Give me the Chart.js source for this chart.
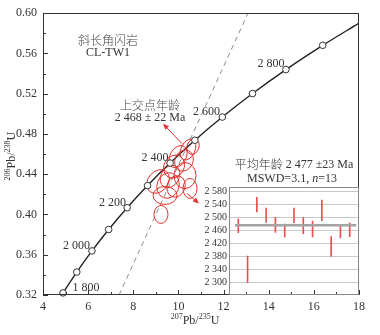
<!DOCTYPE html>
<html><head><meta charset="utf-8">
<script src="https://cdn.jsdelivr.net/npm/chart.js@4.4.1/dist/chart.umd.min.js"></script>
<style>
html,body{margin:0;padding:0;background:#fff;}
#wrap{position:relative;width:380px;height:335px;overflow:hidden;}
#main{position:absolute;left:0;top:0;}
#inset{position:absolute;left:190px;top:175px;}
</style></head><body>
<div id="wrap"><canvas id="main" width="380" height="335"></canvas><canvas id="inset" width="175" height="130"></canvas></div>
<script>
// ---- data ----
const concordiaAges = [1800,1900,2000,2100,2200,2300,2400,2500,2600,2700,2800,2900];
const concordiaX = [4.887,5.496,6.169,6.910,7.729,8.633,9.630,10.730,11.944,13.283,14.762,16.393];
const concordiaY = [0.3221,0.3428,0.3638,0.3851,0.4067,0.4287,0.4511,0.4738,0.4968,0.5202,0.5440,0.5681];
const curveEndX = 18.0, curveEndY = 0.5901;
const labeledAges = ['1 800','2 000','2 200','2 400','2 600','2 800'];
const discX = [7.37, 13.08];
const discY = [0.32, 0.60];
// error ellipses: centre, half-widths, tilt
const ellX  = [10.424,10.646,9.981,10.291,9.095,9.538,9.405,9.228,9.804,9.893,10.247,9.627,10.513];
const ellY  = [0.4645,0.4674,0.4575,0.4387,0.4328,0.4288,0.4189,0.4001,0.4476,0.4279,0.4536,0.4377,0.4259];
const ellDX = [0.310,0.266,0.354,0.487,0.443,0.487,0.532,0.310,0.443,0.399,0.399,0.399,0.310];
const ellDY = [0.0109,0.0079,0.0119,0.0129,0.0129,0.0129,0.0089,0.0089,0.0119,0.0109,0.0109,0.0119,0.0099];
const ellTilt = [25,20,30,0,40,20,0,0,30,20,25,30,0];
const xTicks = [4,5,6,7,8,9,10,11,12,13,14,15,16,17,18];
const yTicks = [0.32,0.34,0.36,0.38,0.40,0.42,0.44,0.46,0.48,0.50,0.52,0.54,0.56,0.58,0.60];
// inset weighted mean
const insetIdx  = [1,2,3,4,5,6,7,8,9,10,11,12,13];
const insetLow  = [2454,2300,2518,2486,2455,2441,2485,2451,2441,2491,2382,2438,2442];
const insetHigh = [2496,2382,2563,2530,2501,2481,2530,2501,2490,2555,2442,2477,2484];
const meanAge = 2477;
const insetTicks = [2300,2340,2380,2420,2460,2500,2540,2580];

// ---- layout / annotation config ----
const SERIF = '"Liberation Serif", "DejaVu Serif", serif';
const CJK = '"Noto Sans CJK SC", sans-serif';
const TXT = '#333';
const RED = '#e3312d';
const labelPos = [[5.905,0.3269],[5.484,0.3685],[7.08,0.412],[8.96,0.4565],[11.24,0.502],[14.10,0.5495]];
const annotations = [
  {x:6.88, y:0.5733, c:'#444', runs:[{t:'斜长角闪岩', f:'300 12px '+CJK}]},
  {x:6.88, y:0.5604, runs:[{t:'CL-TW1', f:'12px '+SERIF}]},
  {x:8.74, y:0.5080, c:'#444', runs:[{t:'上交点年龄', f:'300 12px '+CJK}]},
  {x:8.74, y:0.4961, runs:[{t:'2 468 ± 22 Ma', f:'12px '+SERIF}]},
  {x:15.12, y:0.4496, runs:[{t:'平均年龄', f:'300 12px '+CJK},{t:' 2 477 ±23 Ma', f:'12px '+SERIF}]},
  {x:15.03, y:0.4358, runs:[{t:'MSWD=3.1, ', f:'12px '+SERIF},{t:'n', f:'italic 12px '+SERIF},{t:'=13', f:'12px '+SERIF}]}
];
const arrows = [
  {from:[10.158,0.4704], to:[9.317,0.4902]},
  {from:[10.380,0.4209], to:[10.912,0.4110]}
];

function drawRuns(ctx, runs, cx, cy){
  let w = 0;
  runs.forEach(r=>{ctx.font=r.f; r.w=ctx.measureText(r.t).width; w+=r.w;});
  let x = cx - w/2;
  ctx.textBaseline='middle'; ctx.textAlign='left';
  runs.forEach(r=>{ctx.font=r.f; ctx.fillText(r.t, x, cy+(r.dy||0)); x+=r.w;});
}
function isoTitle(a, el, b, el2){
  return [{t:a,f:'8px '+SERIF,dy:-4},{t:el,f:'12px '+SERIF},{t:b,f:'8px '+SERIF,dy:-4},{t:el2,f:'12px '+SERIF}];
}

const mainPlugin = {
  id:'mainDeco',
  beforeDraw(chart){
    const c=chart.ctx; c.save(); c.fillStyle='#fff'; c.fillRect(0,0,chart.width,chart.height); c.restore();
  },
  beforeDatasetDraw(chart, args){
    if(args.index!==0) return;
    const c=chart.ctx, xs=chart.scales.x, ys=chart.scales.y, a=chart.chartArea;
    c.save();
    c.beginPath(); c.rect(a.left,a.top,a.right-a.left,a.bottom-a.top); c.clip();
    c.strokeStyle=RED; c.lineWidth=1;
    for(let i=0;i<ellX.length;i++){
      const cx=xs.getPixelForValue(ellX[i]), cy=ys.getPixelForValue(ellY[i]);
      const rx=Math.abs(xs.getPixelForValue(ellX[i]+ellDX[i])-cx);
      const ry=Math.abs(ys.getPixelForValue(ellY[i]+ellDY[i])-cy);
      c.beginPath(); c.ellipse(cx,cy,rx,ry,ellTilt[i]*Math.PI/180,0,Math.PI*2); c.stroke();
    }
    c.restore();
  },
  afterDraw(chart){
    const c=chart.ctx, xs=chart.scales.x, ys=chart.scales.y, a=chart.chartArea;
    c.save();
    // frame
    c.strokeStyle='#333'; c.lineWidth=1;
    c.strokeRect(Math.round(a.left)+0.5, Math.round(a.top)+0.5, Math.round(a.right-a.left)-1, Math.round(a.bottom-a.top)-1);
    // inward ticks
    c.beginPath();
    xs.ticks.forEach(t=>{
      const p=Math.round(xs.getPixelForValue(t.value))+0.5; const len=(t.value%2===0)?5:3;
      c.moveTo(p,a.bottom); c.lineTo(p,a.bottom-len);
    });
    ys.ticks.forEach(t=>{
      const p=Math.round(ys.getPixelForValue(t.value))+0.5; const len=(Math.round(t.value*100)%4===0)?5:3;
      c.moveTo(a.left,p); c.lineTo(a.left+len,p);
    });
    c.stroke();
    // concordia age labels
    c.fillStyle=TXT;
    labeledAges.forEach((s,i)=>{
      drawRuns(c,[{t:s,f:'12px '+SERIF}], xs.getPixelForValue(labelPos[i][0]), ys.getPixelForValue(labelPos[i][1]));
    });
    annotations.forEach(an=>{c.fillStyle=an.c||TXT; drawRuns(c, an.runs, xs.getPixelForValue(an.x), ys.getPixelForValue(an.y));});
    // arrows
    c.strokeStyle=RED; c.fillStyle=RED; c.lineWidth=1;
    arrows.forEach(ar=>{
      const x1=xs.getPixelForValue(ar.from[0]), y1=ys.getPixelForValue(ar.from[1]);
      const x2=xs.getPixelForValue(ar.to[0]), y2=ys.getPixelForValue(ar.to[1]);
      const ang=Math.atan2(y2-y1,x2-x1), L=6, W=2.6;
      c.beginPath(); c.moveTo(x1,y1); c.lineTo(x2-Math.cos(ang)*L*0.8,y2-Math.sin(ang)*L*0.8); c.stroke();
      c.beginPath(); c.moveTo(x2,y2);
      c.lineTo(x2-Math.cos(ang)*L-Math.sin(ang)*W, y2-Math.sin(ang)*L+Math.cos(ang)*W);
      c.lineTo(x2-Math.cos(ang)*L+Math.sin(ang)*W, y2-Math.sin(ang)*L-Math.cos(ang)*W);
      c.closePath(); c.fill();
    });
    // axis titles
    c.fillStyle=TXT;
    drawRuns(c, isoTitle('207','Pb/','235','U'), (a.left+a.right)/2-6, a.bottom+26);
    c.translate(a.left-31,(a.top+a.bottom)/2+2); c.rotate(-Math.PI/2);
    drawRuns(c, isoTitle('206','Pb/','238','U'), 0, 0);
    c.restore();
  }
};

new Chart(document.getElementById('main'), {
  type:'scatter',
  data:{datasets:[
    {data: concordiaX.map((x,i)=>({x, y:concordiaY[i]})), pointRadius:3.3, pointBackgroundColor:'#fff',
     pointBorderColor:'#333', pointBorderWidth:1, showLine:false, clip:false},
    {data: concordiaX.map((x,i)=>({x, y:concordiaY[i]})).concat([{x:curveEndX,y:curveEndY}]), showLine:true,
     pointRadius:0, borderColor:'#222', borderWidth:1.4, cubicInterpolationMode:'monotone', fill:false},
    {data: discX.map((x,i)=>({x, y:discY[i]})), showLine:true, pointRadius:0, borderColor:'#8c8c8c',
     borderWidth:1, borderDash:[5,4], fill:false}
  ]},
  options:{
    responsive:false, animation:false, events:[],
    layout:{padding:{left:0, right:21, top:12, bottom:0}},
    plugins:{legend:{display:false}, tooltip:{enabled:false}},
    scales:{
      x:{type:'linear', min:4, max:18,
        afterBuildTicks:s=>{s.ticks=xTicks.map(v=>({value:v}));},
        afterFit:s=>{s.height=40;},
        grid:{display:false, drawTicks:false}, border:{display:false},
        ticks:{autoSkip:false, maxRotation:0, padding:5, color:TXT, font:{family:SERIF, size:12},
          callback:v=> (v%2===0? String(v):'')}},
      y:{type:'linear', min:0.32, max:0.60,
        afterBuildTicks:s=>{s.ticks=yTicks.map(v=>({value:v}));},
        afterFit:s=>{s.width=43;},
        grid:{display:false, drawTicks:false}, border:{display:false},
        ticks:{autoSkip:false, padding:6, color:TXT, font:{family:SERIF, size:12},
          callback:v=> (Math.round(v*100)%4===0? v.toFixed(2):'')}}
    }
  },
  plugins:[mainPlugin]
});

const insetPlugin = {
  id:'insetFrame',
  afterDraw(chart){
    const c=chart.ctx, a=chart.chartArea;
    c.save(); c.strokeStyle='#888'; c.lineWidth=1;
    c.strokeRect(Math.round(a.left)+0.5, Math.round(a.top)+0.5, Math.round(a.right-a.left)-1, Math.round(a.bottom-a.top)-1);
    c.restore();
  }
};
const fmtAge = v => String(v).replace(/\B(?=(\d{3})+(?!\d))/g,' ');
new Chart(document.getElementById('inset'), {
  type:'bar',
  data:{datasets:[
    {type:'line', data:[{x:0.65,y:meanAge},{x:13.7,y:meanAge}], borderColor:'#a3a3a3', borderWidth:2.5, pointRadius:0, order:0},
    {type:'bar', data: insetIdx.map((x,i)=>({x, y:[insetLow[i], insetHigh[i]]})), backgroundColor:'#e8514d',
     barThickness:1, grouped:false, order:1}
  ]},
  options:{
    responsive:false, animation:false, events:[],
    layout:{padding:{left:0, right:6, top:12, bottom:10}},
    plugins:{legend:{display:false}, tooltip:{enabled:false}},
    scales:{
      x:{type:'linear', min:0, max:14, display:false, offset:false},
      y:{min:2262, max:2595,
        afterBuildTicks:s=>{s.ticks=insetTicks.map(v=>({value:v}));},
        afterFit:s=>{s.width=39;},
        grid:{color:'#cacaca', drawTicks:false}, border:{display:false},
        ticks:{padding:2, color:TXT, font:{family:SERIF, size:10}, callback:v=>fmtAge(v)}}
    }
  },
  plugins:[insetPlugin]
});
</script>
</body></html>
